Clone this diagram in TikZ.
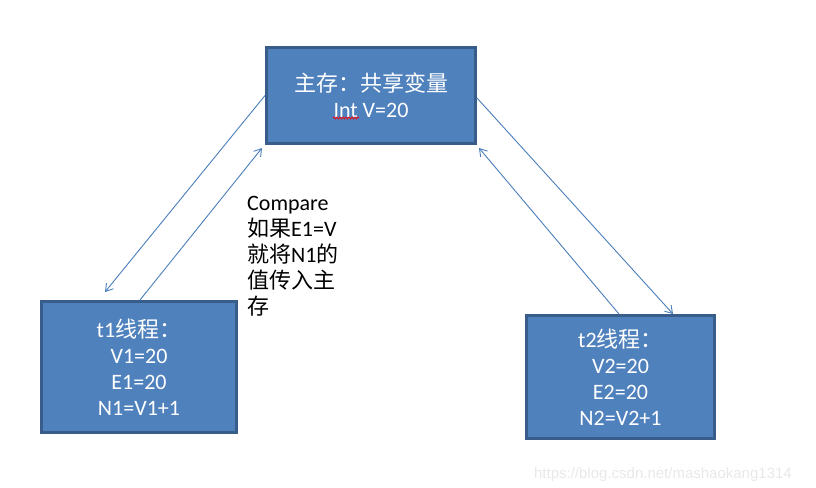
\documentclass[tikz,border=0pt]{standalone}
\usepackage{fontspec}
\setmainfont{Carlito}
\newfontfamily\cjk{Noto Sans CJK SC}
\newfontfamily\urlfont{Liberation Sans}
\usetikzlibrary{arrows.meta,decorations.pathmorphing}

\definecolor{boxfill}{HTML}{4F81BD}
\definecolor{boxline}{HTML}{385D8A}
\definecolor{linkcol}{HTML}{4A7EBB}

\tikzstyle{membox} = [draw = boxline, line width = 3pt, fill = boxfill, text = white,
                      align = center, inner sep = 0pt, font = \fontsize{22}{26}\selectfont]
\tikzstyle{link} = [draw = linkcol, line width = 0.9pt, -{Straight Barb[length = 7pt, width = 9pt]}]

\begin{document}
\begin{tikzpicture}[x = 1pt, y = -1pt]
      \useasboundingbox (0, 0) rectangle (816, 487);

      % shared memory
      \node[membox, minimum width = 209pt, minimum height = 96pt] (main) at (371, 95.5)
        {{\cjk 主存：共享变量}\\Int V=20};
      \draw[red, line width = 0.7pt, decorate,
            decoration = {snake, amplitude = 1pt, segment length = 3pt}]
        ([xshift = -38pt, yshift = -22.5pt]main.center) -- ([xshift = -12pt, yshift = -22.5pt]main.center);

      % threads
      \node[membox, minimum width = 195pt, minimum height = 131pt] (t1) at (139, 367)
        {t1{\cjk 线程：}\\V1=20\\E1=20\\N1=V1+1};
      \node[membox, minimum width = 188pt, minimum height = 123pt] (t2) at (620.5, 377)
        {t2{\cjk 线程：}\\V2=20\\E2=20\\N2=V2+1};

      % compare note
      \node[anchor = north west, align = left, inner sep = 0pt,
            font = \fontsize{22}{26}\selectfont] (cas) at (247, 196)
        {Compare\\{\cjk 如果}E1=V\\{\cjk 就将}N1{\cjk 的}\\{\cjk 值传入主}\\{\cjk 存}};

      % read and write back
      \draw[link] (main.west) -- ([xshift = 65pt, yshift = 8pt]t1.north west);
      \draw[link] ([xshift = 100pt]t1.north west) -- ([xshift = -3pt, yshift = -3pt]main.south west);
      \draw[link] ([yshift = -2.5pt]main.east) -- ([xshift = 148pt]t2.north west);
      \draw[link] ([xshift = 94pt]t2.north west) -- ([xshift = 2pt, yshift = -3pt]main.south east);

      % watermark
      \node[anchor = east, inner sep = 0pt, text = gray!18,
            font = \urlfont\fontsize{15}{18}\selectfont] (mark) at (792, 475)
        {https://blog.csdn.net/mashaokang1314};
    \end{tikzpicture}
\end{document}
